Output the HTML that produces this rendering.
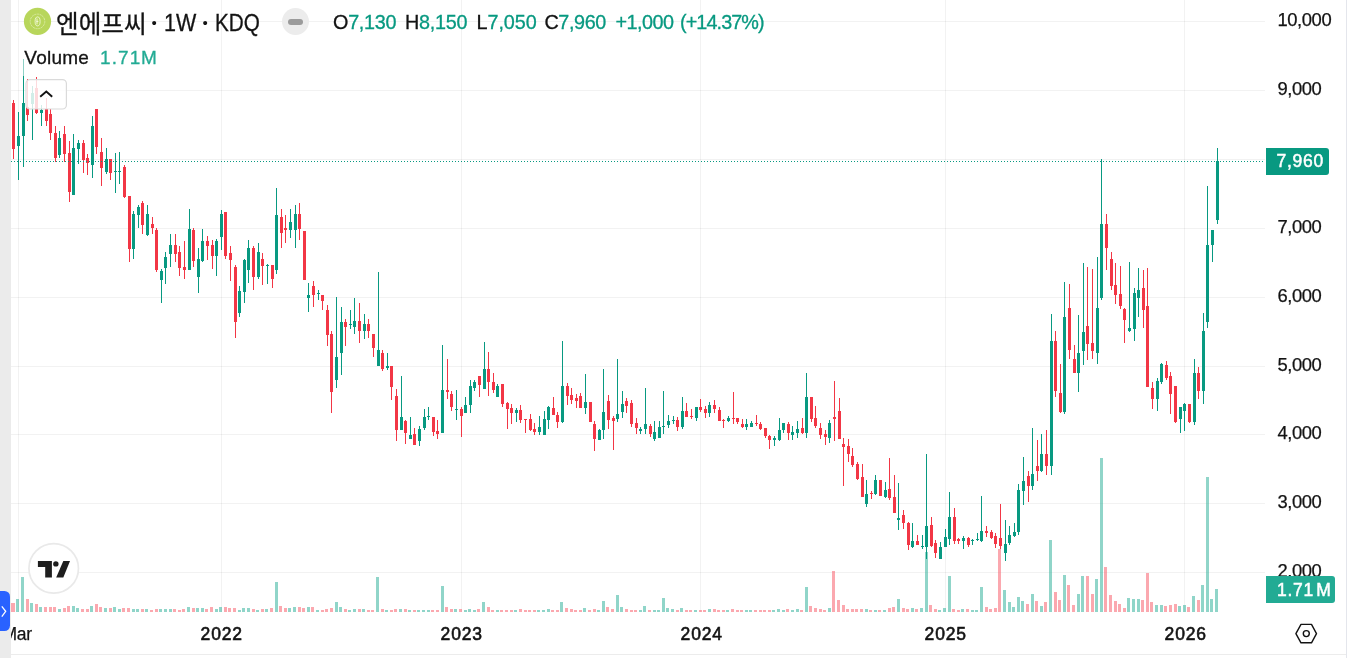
<!DOCTYPE html>
<html><head><meta charset="utf-8"><title>chart</title>
<style>
html,body{margin:0;padding:0;background:#fff;}
body{width:1347px;height:658px;position:relative;overflow:hidden;font-family:"Liberation Sans","NanumGothic","Noto Sans CJK KR",sans-serif;color:#131722;}
.abs{position:absolute;white-space:nowrap;}
#strip{left:0;top:0;width:11px;height:658px;background:#ebebeb;z-index:5;}
#rstrip{left:1346px;top:0;width:1px;height:658px;background:#e4e6ec;}
#tab{z-index:6;left:0;top:591px;width:10.2px;height:40px;background:#2962ff;border-radius:0 5.5px 5.5px 0;}
#chart{left:0;top:0;}
#bline{left:11px;top:654px;width:1335px;height:1px;background:#ececec;}
.pl{left:1277.4px;margin-top:-1.4px;font-size:18.4px;line-height:20px;color:#131313;letter-spacing:-0.4px;-webkit-text-stroke:0.25px #131313;}
.tl{font-size:17.5px;font-weight:normal;-webkit-text-stroke:0.6px #131313;line-height:20px;letter-spacing:0.8px;color:#131313;margin-left:0.7px;transform:translateX(-50%);top:624px;}
.tt{font-size:23.5px;line-height:28px;color:#131313;transform-origin:0 50%;-webkit-text-stroke:0.3px #131313;}
.oh{top:10.8px;font-size:19.8px;line-height:22px;color:#089981;-webkit-text-stroke:0.3px #089981;}
.oh b{font-weight:normal;color:#131313;-webkit-text-stroke:0.3px #131313;}

#vol{left:24.3px;top:47.3px;font-size:19px;line-height:22px;letter-spacing:0.25px;color:#131313;-webkit-text-stroke:0.3px #131313;}
#vol .vv{color:#22ab94;-webkit-text-stroke:0.3px #22ab94;margin-left:10.8px;letter-spacing:1.1px;}
#vol .vm{margin-left:-5.7px;letter-spacing:0;font-size:19px;}
#pill{left:282px;top:8px;width:27px;height:27px;border-radius:50%;background:#ececec;}
#pill i{position:absolute;left:6px;top:11px;width:15px;height:6px;border-radius:3px;background:#9b9b9b;}
#logo{left:23.5px;top:7.5px;width:28px;height:28px;border-radius:50%;background:#b5d45a;}
#collapse{left:26px;top:79px;width:39px;height:29px;border:1px solid #e2e2e2;border-radius:5px;background:rgba(255,255,255,0.85);}
#tv{left:28.3px;top:543px;width:48px;height:48px;border:1.4px solid #e8e8e8;border-radius:50%;background:#fff;}
#plabel{left:1266px;top:148px;width:52.5px;padding-left:10.5px;height:27px;background:#089981;border-radius:0 3px 3px 0;color:#fff;font-size:17.5px;font-weight:normal;-webkit-text-stroke:0.5px #fff;line-height:27px;letter-spacing:0.75px;}
#vlabel{left:1266px;top:576px;width:58px;padding-left:11px;height:27px;background:#22ab94;border-radius:0 3px 3px 0;color:#fff;font-size:17.5px;font-weight:normal;-webkit-text-stroke:0.5px #fff;line-height:28px;letter-spacing:0.75px;}
</style></head><body>
<div id="strip" class="abs"></div><div id="rstrip" class="abs"></div>
<svg id="chart" class="abs" width="1347" height="658" viewBox="0 0 1347 658" shape-rendering="crispEdges">
<rect x="11" y="21" width="1254" height="1" fill="rgba(0,0,0,0.052)"/>
<rect x="11" y="90" width="1254" height="1" fill="rgba(0,0,0,0.052)"/>
<rect x="11" y="159" width="1254" height="1" fill="rgba(0,0,0,0.052)"/>
<rect x="11" y="228" width="1254" height="1" fill="rgba(0,0,0,0.052)"/>
<rect x="11" y="297" width="1254" height="1" fill="rgba(0,0,0,0.052)"/>
<rect x="11" y="366" width="1254" height="1" fill="rgba(0,0,0,0.052)"/>
<rect x="11" y="434" width="1254" height="1" fill="rgba(0,0,0,0.052)"/>
<rect x="11" y="503" width="1254" height="1" fill="rgba(0,0,0,0.052)"/>
<rect x="11" y="572" width="1254" height="1" fill="rgba(0,0,0,0.052)"/>
<rect x="18" y="0" width="1" height="612" fill="rgba(0,0,0,0.052)"/>
<rect x="221" y="0" width="1" height="612" fill="rgba(0,0,0,0.052)"/>
<rect x="461" y="0" width="1" height="612" fill="rgba(0,0,0,0.052)"/>
<rect x="700" y="0" width="1" height="612" fill="rgba(0,0,0,0.052)"/>
<rect x="945" y="0" width="1" height="612" fill="rgba(0,0,0,0.052)"/>
<rect x="1184" y="0" width="1" height="612" fill="rgba(0,0,0,0.052)"/>
<rect x="11" y="603" width="4" height="9" fill="rgba(247,82,95,0.5)"/>
<rect x="16" y="599" width="3" height="13" fill="rgba(34,171,148,0.5)"/>
<rect x="21" y="577" width="3" height="35" fill="rgba(34,171,148,0.5)"/>
<rect x="26" y="599" width="3" height="13" fill="rgba(247,82,95,0.5)"/>
<rect x="30" y="603" width="3" height="9" fill="rgba(34,171,148,0.5)"/>
<rect x="35" y="604" width="3" height="8" fill="rgba(247,82,95,0.5)"/>
<rect x="39" y="607" width="3" height="5" fill="rgba(34,171,148,0.5)"/>
<rect x="44" y="607" width="3" height="5" fill="rgba(247,82,95,0.5)"/>
<rect x="49" y="607" width="3" height="5" fill="rgba(247,82,95,0.5)"/>
<rect x="53" y="607" width="3" height="5" fill="rgba(247,82,95,0.5)"/>
<rect x="58" y="609" width="3" height="3" fill="rgba(34,171,148,0.5)"/>
<rect x="63" y="608" width="3" height="4" fill="rgba(247,82,95,0.5)"/>
<rect x="67" y="606" width="3" height="6" fill="rgba(247,82,95,0.5)"/>
<rect x="72" y="606" width="3" height="6" fill="rgba(34,171,148,0.5)"/>
<rect x="76" y="608" width="3" height="4" fill="rgba(34,171,148,0.5)"/>
<rect x="81" y="609" width="3" height="3" fill="rgba(247,82,95,0.5)"/>
<rect x="86" y="609" width="3" height="3" fill="rgba(247,82,95,0.5)"/>
<rect x="90" y="606" width="3" height="6" fill="rgba(34,171,148,0.5)"/>
<rect x="95" y="604" width="3" height="8" fill="rgba(247,82,95,0.5)"/>
<rect x="99" y="607" width="3" height="5" fill="rgba(247,82,95,0.5)"/>
<rect x="104" y="608" width="3" height="4" fill="rgba(34,171,148,0.5)"/>
<rect x="109" y="608" width="3" height="4" fill="rgba(247,82,95,0.5)"/>
<rect x="113" y="607" width="3" height="5" fill="rgba(34,171,148,0.5)"/>
<rect x="118" y="609" width="3" height="3" fill="rgba(34,171,148,0.5)"/>
<rect x="122" y="608" width="3" height="4" fill="rgba(247,82,95,0.5)"/>
<rect x="127" y="608" width="3" height="4" fill="rgba(247,82,95,0.5)"/>
<rect x="132" y="609" width="3" height="3" fill="rgba(34,171,148,0.5)"/>
<rect x="136" y="609" width="3" height="3" fill="rgba(34,171,148,0.5)"/>
<rect x="141" y="609" width="3" height="3" fill="rgba(247,82,95,0.5)"/>
<rect x="145" y="609" width="3" height="3" fill="rgba(34,171,148,0.5)"/>
<rect x="150" y="610" width="3" height="2" fill="rgba(247,82,95,0.5)"/>
<rect x="155" y="609" width="3" height="3" fill="rgba(247,82,95,0.5)"/>
<rect x="159" y="609" width="3" height="3" fill="rgba(34,171,148,0.5)"/>
<rect x="164" y="609" width="3" height="3" fill="rgba(34,171,148,0.5)"/>
<rect x="169" y="609" width="3" height="3" fill="rgba(34,171,148,0.5)"/>
<rect x="173" y="609" width="3" height="3" fill="rgba(247,82,95,0.5)"/>
<rect x="178" y="610" width="3" height="2" fill="rgba(247,82,95,0.5)"/>
<rect x="182" y="609" width="3" height="3" fill="rgba(247,82,95,0.5)"/>
<rect x="187" y="607" width="3" height="5" fill="rgba(34,171,148,0.5)"/>
<rect x="192" y="608" width="3" height="4" fill="rgba(247,82,95,0.5)"/>
<rect x="196" y="608" width="3" height="4" fill="rgba(34,171,148,0.5)"/>
<rect x="201" y="608" width="3" height="4" fill="rgba(34,171,148,0.5)"/>
<rect x="205" y="609" width="3" height="3" fill="rgba(247,82,95,0.5)"/>
<rect x="210" y="607" width="3" height="5" fill="rgba(247,82,95,0.5)"/>
<rect x="215" y="609" width="3" height="3" fill="rgba(34,171,148,0.5)"/>
<rect x="219" y="607" width="3" height="5" fill="rgba(34,171,148,0.5)"/>
<rect x="224" y="607" width="3" height="5" fill="rgba(247,82,95,0.5)"/>
<rect x="228" y="608" width="3" height="4" fill="rgba(247,82,95,0.5)"/>
<rect x="233" y="608" width="3" height="4" fill="rgba(247,82,95,0.5)"/>
<rect x="238" y="610" width="3" height="2" fill="rgba(34,171,148,0.5)"/>
<rect x="242" y="608" width="3" height="4" fill="rgba(34,171,148,0.5)"/>
<rect x="247" y="608" width="3" height="4" fill="rgba(34,171,148,0.5)"/>
<rect x="252" y="609" width="3" height="3" fill="rgba(247,82,95,0.5)"/>
<rect x="256" y="610" width="3" height="2" fill="rgba(34,171,148,0.5)"/>
<rect x="261" y="609" width="3" height="3" fill="rgba(247,82,95,0.5)"/>
<rect x="265" y="609" width="3" height="3" fill="rgba(34,171,148,0.5)"/>
<rect x="270" y="608" width="3" height="4" fill="rgba(247,82,95,0.5)"/>
<rect x="275" y="582" width="3" height="30" fill="rgba(34,171,148,0.5)"/>
<rect x="279" y="606" width="3" height="6" fill="rgba(247,82,95,0.5)"/>
<rect x="284" y="608" width="3" height="4" fill="rgba(247,82,95,0.5)"/>
<rect x="288" y="608" width="3" height="4" fill="rgba(34,171,148,0.5)"/>
<rect x="293" y="607" width="3" height="5" fill="rgba(34,171,148,0.5)"/>
<rect x="298" y="607" width="3" height="5" fill="rgba(247,82,95,0.5)"/>
<rect x="302" y="608" width="3" height="4" fill="rgba(247,82,95,0.5)"/>
<rect x="307" y="607" width="3" height="5" fill="rgba(34,171,148,0.5)"/>
<rect x="311" y="607" width="3" height="5" fill="rgba(247,82,95,0.5)"/>
<rect x="316" y="610" width="3" height="2" fill="rgba(34,171,148,0.5)"/>
<rect x="321" y="610" width="3" height="2" fill="rgba(247,82,95,0.5)"/>
<rect x="325" y="609" width="3" height="3" fill="rgba(247,82,95,0.5)"/>
<rect x="330" y="608" width="3" height="4" fill="rgba(247,82,95,0.5)"/>
<rect x="335" y="602" width="3" height="10" fill="rgba(34,171,148,0.5)"/>
<rect x="339" y="607" width="3" height="5" fill="rgba(34,171,148,0.5)"/>
<rect x="344" y="609" width="3" height="3" fill="rgba(247,82,95,0.5)"/>
<rect x="348" y="610" width="3" height="2" fill="rgba(34,171,148,0.5)"/>
<rect x="353" y="609" width="3" height="3" fill="rgba(34,171,148,0.5)"/>
<rect x="358" y="609" width="3" height="3" fill="rgba(247,82,95,0.5)"/>
<rect x="362" y="609" width="3" height="3" fill="rgba(34,171,148,0.5)"/>
<rect x="367" y="610" width="3" height="2" fill="rgba(247,82,95,0.5)"/>
<rect x="371" y="610" width="3" height="2" fill="rgba(247,82,95,0.5)"/>
<rect x="376" y="577" width="3" height="35" fill="rgba(34,171,148,0.5)"/>
<rect x="381" y="609" width="3" height="3" fill="rgba(247,82,95,0.5)"/>
<rect x="385" y="610" width="3" height="2" fill="rgba(34,171,148,0.5)"/>
<rect x="390" y="610" width="3" height="2" fill="rgba(247,82,95,0.5)"/>
<rect x="394" y="609" width="3" height="3" fill="rgba(247,82,95,0.5)"/>
<rect x="399" y="609" width="3" height="3" fill="rgba(34,171,148,0.5)"/>
<rect x="404" y="609" width="3" height="3" fill="rgba(247,82,95,0.5)"/>
<rect x="408" y="610" width="3" height="2" fill="rgba(34,171,148,0.5)"/>
<rect x="413" y="610" width="3" height="2" fill="rgba(247,82,95,0.5)"/>
<rect x="417" y="610" width="3" height="2" fill="rgba(34,171,148,0.5)"/>
<rect x="422" y="610" width="3" height="2" fill="rgba(34,171,148,0.5)"/>
<rect x="427" y="610" width="3" height="2" fill="rgba(34,171,148,0.5)"/>
<rect x="431" y="610" width="3" height="2" fill="rgba(247,82,95,0.5)"/>
<rect x="436" y="610" width="3" height="2" fill="rgba(247,82,95,0.5)"/>
<rect x="441" y="586" width="3" height="26" fill="rgba(34,171,148,0.5)"/>
<rect x="445" y="607" width="3" height="5" fill="rgba(247,82,95,0.5)"/>
<rect x="450" y="609" width="3" height="3" fill="rgba(247,82,95,0.5)"/>
<rect x="454" y="609" width="3" height="3" fill="rgba(34,171,148,0.5)"/>
<rect x="459" y="609" width="3" height="3" fill="rgba(247,82,95,0.5)"/>
<rect x="464" y="610" width="3" height="2" fill="rgba(34,171,148,0.5)"/>
<rect x="468" y="609" width="3" height="3" fill="rgba(34,171,148,0.5)"/>
<rect x="473" y="610" width="3" height="2" fill="rgba(34,171,148,0.5)"/>
<rect x="477" y="609" width="3" height="3" fill="rgba(247,82,95,0.5)"/>
<rect x="482" y="602" width="3" height="10" fill="rgba(34,171,148,0.5)"/>
<rect x="487" y="607" width="3" height="5" fill="rgba(247,82,95,0.5)"/>
<rect x="491" y="610" width="3" height="2" fill="rgba(247,82,95,0.5)"/>
<rect x="496" y="610" width="3" height="2" fill="rgba(34,171,148,0.5)"/>
<rect x="500" y="610" width="3" height="2" fill="rgba(247,82,95,0.5)"/>
<rect x="505" y="610" width="3" height="2" fill="rgba(247,82,95,0.5)"/>
<rect x="510" y="610" width="3" height="2" fill="rgba(247,82,95,0.5)"/>
<rect x="514" y="610" width="3" height="2" fill="rgba(34,171,148,0.5)"/>
<rect x="519" y="609" width="3" height="3" fill="rgba(247,82,95,0.5)"/>
<rect x="524" y="610" width="3" height="2" fill="rgba(247,82,95,0.5)"/>
<rect x="528" y="610" width="3" height="2" fill="rgba(247,82,95,0.5)"/>
<rect x="533" y="610" width="3" height="2" fill="rgba(247,82,95,0.5)"/>
<rect x="537" y="610" width="3" height="2" fill="rgba(34,171,148,0.5)"/>
<rect x="542" y="610" width="3" height="2" fill="rgba(34,171,148,0.5)"/>
<rect x="547" y="609" width="3" height="3" fill="rgba(34,171,148,0.5)"/>
<rect x="551" y="610" width="3" height="2" fill="rgba(247,82,95,0.5)"/>
<rect x="556" y="610" width="3" height="2" fill="rgba(247,82,95,0.5)"/>
<rect x="560" y="602" width="3" height="10" fill="rgba(34,171,148,0.5)"/>
<rect x="565" y="608" width="3" height="4" fill="rgba(247,82,95,0.5)"/>
<rect x="570" y="609" width="3" height="3" fill="rgba(247,82,95,0.5)"/>
<rect x="574" y="610" width="3" height="2" fill="rgba(247,82,95,0.5)"/>
<rect x="579" y="610" width="3" height="2" fill="rgba(247,82,95,0.5)"/>
<rect x="583" y="608" width="3" height="4" fill="rgba(34,171,148,0.5)"/>
<rect x="588" y="610" width="3" height="2" fill="rgba(247,82,95,0.5)"/>
<rect x="593" y="609" width="3" height="3" fill="rgba(247,82,95,0.5)"/>
<rect x="597" y="610" width="3" height="2" fill="rgba(34,171,148,0.5)"/>
<rect x="602" y="601" width="3" height="11" fill="rgba(34,171,148,0.5)"/>
<rect x="606" y="607" width="3" height="5" fill="rgba(247,82,95,0.5)"/>
<rect x="611" y="609" width="3" height="3" fill="rgba(247,82,95,0.5)"/>
<rect x="616" y="595" width="3" height="17" fill="rgba(34,171,148,0.5)"/>
<rect x="620" y="607" width="3" height="5" fill="rgba(34,171,148,0.5)"/>
<rect x="625" y="609" width="3" height="3" fill="rgba(247,82,95,0.5)"/>
<rect x="630" y="610" width="3" height="2" fill="rgba(247,82,95,0.5)"/>
<rect x="634" y="610" width="3" height="2" fill="rgba(247,82,95,0.5)"/>
<rect x="639" y="610" width="3" height="2" fill="rgba(34,171,148,0.5)"/>
<rect x="643" y="606" width="3" height="6" fill="rgba(34,171,148,0.5)"/>
<rect x="648" y="610" width="3" height="2" fill="rgba(247,82,95,0.5)"/>
<rect x="653" y="610" width="3" height="2" fill="rgba(34,171,148,0.5)"/>
<rect x="657" y="610" width="3" height="2" fill="rgba(34,171,148,0.5)"/>
<rect x="662" y="598" width="3" height="14" fill="rgba(34,171,148,0.5)"/>
<rect x="666" y="608" width="3" height="4" fill="rgba(34,171,148,0.5)"/>
<rect x="671" y="609" width="3" height="3" fill="rgba(34,171,148,0.5)"/>
<rect x="676" y="610" width="3" height="2" fill="rgba(247,82,95,0.5)"/>
<rect x="680" y="608" width="3" height="4" fill="rgba(34,171,148,0.5)"/>
<rect x="685" y="610" width="3" height="2" fill="rgba(247,82,95,0.5)"/>
<rect x="689" y="610" width="3" height="2" fill="rgba(247,82,95,0.5)"/>
<rect x="694" y="610" width="3" height="2" fill="rgba(34,171,148,0.5)"/>
<rect x="699" y="610" width="3" height="2" fill="rgba(247,82,95,0.5)"/>
<rect x="703" y="610" width="3" height="2" fill="rgba(247,82,95,0.5)"/>
<rect x="708" y="609" width="3" height="3" fill="rgba(34,171,148,0.5)"/>
<rect x="713" y="609" width="3" height="3" fill="rgba(247,82,95,0.5)"/>
<rect x="717" y="610" width="3" height="2" fill="rgba(247,82,95,0.5)"/>
<rect x="722" y="610" width="3" height="2" fill="rgba(247,82,95,0.5)"/>
<rect x="726" y="610" width="3" height="2" fill="rgba(34,171,148,0.5)"/>
<rect x="731" y="609" width="3" height="3" fill="rgba(247,82,95,0.5)"/>
<rect x="736" y="610" width="3" height="2" fill="rgba(247,82,95,0.5)"/>
<rect x="740" y="610" width="3" height="2" fill="rgba(247,82,95,0.5)"/>
<rect x="745" y="610" width="3" height="2" fill="rgba(34,171,148,0.5)"/>
<rect x="749" y="610" width="3" height="2" fill="rgba(34,171,148,0.5)"/>
<rect x="754" y="610" width="3" height="2" fill="rgba(247,82,95,0.5)"/>
<rect x="759" y="610" width="3" height="2" fill="rgba(247,82,95,0.5)"/>
<rect x="763" y="610" width="3" height="2" fill="rgba(247,82,95,0.5)"/>
<rect x="768" y="610" width="3" height="2" fill="rgba(247,82,95,0.5)"/>
<rect x="772" y="610" width="3" height="2" fill="rgba(34,171,148,0.5)"/>
<rect x="777" y="609" width="3" height="3" fill="rgba(34,171,148,0.5)"/>
<rect x="782" y="610" width="3" height="2" fill="rgba(34,171,148,0.5)"/>
<rect x="786" y="609" width="3" height="3" fill="rgba(247,82,95,0.5)"/>
<rect x="791" y="610" width="3" height="2" fill="rgba(34,171,148,0.5)"/>
<rect x="796" y="609" width="3" height="3" fill="rgba(34,171,148,0.5)"/>
<rect x="800" y="610" width="3" height="2" fill="rgba(247,82,95,0.5)"/>
<rect x="805" y="587" width="3" height="25" fill="rgba(34,171,148,0.5)"/>
<rect x="809" y="606" width="3" height="6" fill="rgba(247,82,95,0.5)"/>
<rect x="814" y="608" width="3" height="4" fill="rgba(247,82,95,0.5)"/>
<rect x="819" y="609" width="3" height="3" fill="rgba(247,82,95,0.5)"/>
<rect x="823" y="610" width="3" height="2" fill="rgba(247,82,95,0.5)"/>
<rect x="828" y="608" width="3" height="4" fill="rgba(34,171,148,0.5)"/>
<rect x="832" y="571" width="3" height="41" fill="rgba(247,82,95,0.5)"/>
<rect x="837" y="600" width="3" height="12" fill="rgba(247,82,95,0.5)"/>
<rect x="842" y="605" width="3" height="7" fill="rgba(247,82,95,0.5)"/>
<rect x="846" y="609" width="3" height="3" fill="rgba(247,82,95,0.5)"/>
<rect x="851" y="609" width="3" height="3" fill="rgba(247,82,95,0.5)"/>
<rect x="855" y="609" width="3" height="3" fill="rgba(247,82,95,0.5)"/>
<rect x="860" y="609" width="3" height="3" fill="rgba(247,82,95,0.5)"/>
<rect x="865" y="609" width="3" height="3" fill="rgba(34,171,148,0.5)"/>
<rect x="869" y="610" width="3" height="2" fill="rgba(247,82,95,0.5)"/>
<rect x="874" y="610" width="3" height="2" fill="rgba(34,171,148,0.5)"/>
<rect x="878" y="610" width="3" height="2" fill="rgba(247,82,95,0.5)"/>
<rect x="883" y="610" width="3" height="2" fill="rgba(34,171,148,0.5)"/>
<rect x="888" y="608" width="3" height="4" fill="rgba(247,82,95,0.5)"/>
<rect x="892" y="607" width="3" height="5" fill="rgba(247,82,95,0.5)"/>
<rect x="897" y="599" width="3" height="13" fill="rgba(34,171,148,0.5)"/>
<rect x="902" y="608" width="3" height="4" fill="rgba(247,82,95,0.5)"/>
<rect x="906" y="609" width="3" height="3" fill="rgba(247,82,95,0.5)"/>
<rect x="911" y="608" width="3" height="4" fill="rgba(34,171,148,0.5)"/>
<rect x="915" y="609" width="3" height="3" fill="rgba(247,82,95,0.5)"/>
<rect x="920" y="608" width="3" height="4" fill="rgba(34,171,148,0.5)"/>
<rect x="925" y="552" width="3" height="60" fill="rgba(34,171,148,0.5)"/>
<rect x="929" y="605" width="3" height="7" fill="rgba(247,82,95,0.5)"/>
<rect x="934" y="609" width="3" height="3" fill="rgba(247,82,95,0.5)"/>
<rect x="938" y="610" width="3" height="2" fill="rgba(34,171,148,0.5)"/>
<rect x="943" y="608" width="3" height="4" fill="rgba(34,171,148,0.5)"/>
<rect x="948" y="576" width="3" height="36" fill="rgba(34,171,148,0.5)"/>
<rect x="952" y="609" width="3" height="3" fill="rgba(247,82,95,0.5)"/>
<rect x="957" y="610" width="3" height="2" fill="rgba(247,82,95,0.5)"/>
<rect x="961" y="609" width="3" height="3" fill="rgba(34,171,148,0.5)"/>
<rect x="966" y="609" width="3" height="3" fill="rgba(247,82,95,0.5)"/>
<rect x="971" y="610" width="3" height="2" fill="rgba(34,171,148,0.5)"/>
<rect x="975" y="610" width="3" height="2" fill="rgba(34,171,148,0.5)"/>
<rect x="980" y="587" width="3" height="25" fill="rgba(34,171,148,0.5)"/>
<rect x="985" y="607" width="3" height="5" fill="rgba(247,82,95,0.5)"/>
<rect x="989" y="609" width="3" height="3" fill="rgba(247,82,95,0.5)"/>
<rect x="994" y="608" width="3" height="4" fill="rgba(247,82,95,0.5)"/>
<rect x="998" y="549" width="3" height="63" fill="rgba(247,82,95,0.5)"/>
<rect x="1003" y="590" width="3" height="22" fill="rgba(34,171,148,0.5)"/>
<rect x="1008" y="602" width="3" height="10" fill="rgba(34,171,148,0.5)"/>
<rect x="1012" y="607" width="3" height="5" fill="rgba(34,171,148,0.5)"/>
<rect x="1017" y="597" width="3" height="15" fill="rgba(34,171,148,0.5)"/>
<rect x="1021" y="601" width="3" height="11" fill="rgba(34,171,148,0.5)"/>
<rect x="1026" y="604" width="3" height="8" fill="rgba(247,82,95,0.5)"/>
<rect x="1031" y="594" width="3" height="18" fill="rgba(34,171,148,0.5)"/>
<rect x="1035" y="601" width="3" height="11" fill="rgba(247,82,95,0.5)"/>
<rect x="1040" y="606" width="3" height="6" fill="rgba(34,171,148,0.5)"/>
<rect x="1044" y="602" width="3" height="10" fill="rgba(247,82,95,0.5)"/>
<rect x="1049" y="540" width="3" height="72" fill="rgba(34,171,148,0.5)"/>
<rect x="1054" y="592" width="3" height="20" fill="rgba(247,82,95,0.5)"/>
<rect x="1058" y="600" width="3" height="12" fill="rgba(247,82,95,0.5)"/>
<rect x="1063" y="575" width="3" height="37" fill="rgba(34,171,148,0.5)"/>
<rect x="1067" y="585" width="3" height="27" fill="rgba(247,82,95,0.5)"/>
<rect x="1072" y="605" width="3" height="7" fill="rgba(247,82,95,0.5)"/>
<rect x="1077" y="594" width="3" height="18" fill="rgba(34,171,148,0.5)"/>
<rect x="1081" y="576" width="3" height="36" fill="rgba(34,171,148,0.5)"/>
<rect x="1086" y="576" width="3" height="36" fill="rgba(247,82,95,0.5)"/>
<rect x="1091" y="594" width="3" height="18" fill="rgba(247,82,95,0.5)"/>
<rect x="1095" y="579" width="3" height="33" fill="rgba(34,171,148,0.5)"/>
<rect x="1100" y="458" width="3" height="154" fill="rgba(34,171,148,0.5)"/>
<rect x="1104" y="567" width="3" height="45" fill="rgba(247,82,95,0.5)"/>
<rect x="1109" y="595" width="3" height="17" fill="rgba(247,82,95,0.5)"/>
<rect x="1114" y="601" width="3" height="11" fill="rgba(247,82,95,0.5)"/>
<rect x="1118" y="604" width="3" height="8" fill="rgba(247,82,95,0.5)"/>
<rect x="1123" y="608" width="3" height="4" fill="rgba(247,82,95,0.5)"/>
<rect x="1127" y="598" width="3" height="14" fill="rgba(34,171,148,0.5)"/>
<rect x="1132" y="599" width="3" height="13" fill="rgba(34,171,148,0.5)"/>
<rect x="1137" y="599" width="3" height="13" fill="rgba(34,171,148,0.5)"/>
<rect x="1141" y="600" width="3" height="12" fill="rgba(247,82,95,0.5)"/>
<rect x="1146" y="573" width="3" height="39" fill="rgba(247,82,95,0.5)"/>
<rect x="1150" y="602" width="3" height="10" fill="rgba(247,82,95,0.5)"/>
<rect x="1155" y="605" width="3" height="7" fill="rgba(34,171,148,0.5)"/>
<rect x="1160" y="605" width="3" height="7" fill="rgba(34,171,148,0.5)"/>
<rect x="1164" y="606" width="3" height="6" fill="rgba(247,82,95,0.5)"/>
<rect x="1169" y="605" width="3" height="7" fill="rgba(247,82,95,0.5)"/>
<rect x="1174" y="604" width="3" height="8" fill="rgba(247,82,95,0.5)"/>
<rect x="1178" y="606" width="3" height="6" fill="rgba(34,171,148,0.5)"/>
<rect x="1183" y="605" width="3" height="7" fill="rgba(34,171,148,0.5)"/>
<rect x="1187" y="607" width="3" height="5" fill="rgba(247,82,95,0.5)"/>
<rect x="1192" y="596" width="3" height="16" fill="rgba(34,171,148,0.5)"/>
<rect x="1197" y="600" width="3" height="12" fill="rgba(247,82,95,0.5)"/>
<rect x="1201" y="585" width="3" height="27" fill="rgba(34,171,148,0.5)"/>
<rect x="1206" y="477" width="3" height="135" fill="rgba(34,171,148,0.5)"/>
<rect x="1210" y="599" width="3" height="13" fill="rgba(34,171,148,0.5)"/>
<rect x="1215" y="589" width="3" height="23" fill="rgba(34,171,148,0.5)"/>
<rect x="13" y="100" width="1" height="59" fill="#f23645"/><rect x="12" y="103" width="3" height="46" fill="#f23645"/>
<rect x="18" y="112" width="1" height="68" fill="#089981"/><rect x="17" y="136" width="3" height="10" fill="#089981"/>
<rect x="23" y="59" width="1" height="108" fill="#089981"/><rect x="22" y="103" width="3" height="33" fill="#089981"/>
<rect x="27" y="79" width="1" height="42" fill="#f23645"/><rect x="26" y="107" width="3" height="8" fill="#f23645"/>
<rect x="32" y="86" width="1" height="54" fill="#089981"/><rect x="31" y="93" width="3" height="11" fill="#089981"/>
<rect x="36" y="77" width="1" height="37" fill="#f23645"/><rect x="35" y="88" width="3" height="25" fill="#f23645"/>
<rect x="41" y="105" width="1" height="21" fill="#089981"/><rect x="40" y="110" width="3" height="3" fill="#089981"/>
<rect x="46" y="98" width="1" height="28" fill="#f23645"/><rect x="45" y="109" width="3" height="12" fill="#f23645"/>
<rect x="50" y="109" width="1" height="31" fill="#f23645"/><rect x="49" y="114" width="3" height="19" fill="#f23645"/>
<rect x="55" y="126" width="1" height="36" fill="#f23645"/><rect x="54" y="133" width="3" height="25" fill="#f23645"/>
<rect x="59" y="131" width="1" height="27" fill="#089981"/><rect x="58" y="138" width="3" height="17" fill="#089981"/>
<rect x="64" y="126" width="1" height="36" fill="#f23645"/><rect x="63" y="134" width="3" height="20" fill="#f23645"/>
<rect x="69" y="141" width="1" height="61" fill="#f23645"/><rect x="68" y="153" width="3" height="39" fill="#f23645"/>
<rect x="73" y="134" width="1" height="61" fill="#089981"/><rect x="72" y="148" width="3" height="47" fill="#089981"/>
<rect x="78" y="140" width="1" height="24" fill="#089981"/><rect x="77" y="143" width="3" height="6" fill="#089981"/>
<rect x="83" y="140" width="1" height="33" fill="#f23645"/><rect x="82" y="143" width="3" height="17" fill="#f23645"/>
<rect x="87" y="154" width="1" height="21" fill="#f23645"/><rect x="86" y="158" width="3" height="5" fill="#f23645"/>
<rect x="92" y="116" width="1" height="62" fill="#089981"/><rect x="91" y="126" width="3" height="39" fill="#089981"/>
<rect x="96" y="109" width="1" height="45" fill="#f23645"/><rect x="95" y="109" width="3" height="38" fill="#f23645"/>
<rect x="101" y="138" width="1" height="48" fill="#f23645"/><rect x="100" y="152" width="3" height="16" fill="#f23645"/>
<rect x="106" y="148" width="1" height="26" fill="#089981"/><rect x="105" y="159" width="3" height="13" fill="#089981"/>
<rect x="110" y="159" width="1" height="21" fill="#f23645"/><rect x="109" y="159" width="3" height="14" fill="#f23645"/>
<rect x="115" y="153" width="1" height="40" fill="#089981"/><rect x="114" y="171" width="3" height="1" fill="#089981"/>
<rect x="119" y="152" width="1" height="32" fill="#089981"/><rect x="118" y="171" width="3" height="1" fill="#089981"/>
<rect x="124" y="165" width="1" height="33" fill="#f23645"/><rect x="123" y="167" width="3" height="30" fill="#f23645"/>
<rect x="129" y="196" width="1" height="66" fill="#f23645"/><rect x="128" y="196" width="3" height="53" fill="#f23645"/>
<rect x="133" y="211" width="1" height="48" fill="#089981"/><rect x="132" y="214" width="3" height="35" fill="#089981"/>
<rect x="138" y="205" width="1" height="23" fill="#089981"/><rect x="137" y="207" width="3" height="8" fill="#089981"/>
<rect x="142" y="201" width="1" height="33" fill="#f23645"/><rect x="141" y="203" width="3" height="22" fill="#f23645"/>
<rect x="147" y="205" width="1" height="31" fill="#089981"/><rect x="146" y="214" width="3" height="21" fill="#089981"/>
<rect x="152" y="217" width="1" height="17" fill="#f23645"/><rect x="151" y="224" width="3" height="4" fill="#f23645"/>
<rect x="156" y="228" width="1" height="44" fill="#f23645"/><rect x="155" y="230" width="3" height="40" fill="#f23645"/>
<rect x="161" y="269" width="1" height="34" fill="#089981"/><rect x="160" y="271" width="3" height="9" fill="#089981"/>
<rect x="165" y="252" width="1" height="32" fill="#089981"/><rect x="164" y="257" width="3" height="11" fill="#089981"/>
<rect x="170" y="234" width="1" height="33" fill="#089981"/><rect x="169" y="245" width="3" height="9" fill="#089981"/>
<rect x="175" y="234" width="1" height="28" fill="#f23645"/><rect x="174" y="245" width="3" height="9" fill="#f23645"/>
<rect x="179" y="246" width="1" height="30" fill="#f23645"/><rect x="178" y="252" width="3" height="16" fill="#f23645"/>
<rect x="184" y="241" width="1" height="38" fill="#f23645"/><rect x="183" y="267" width="3" height="3" fill="#f23645"/>
<rect x="189" y="209" width="1" height="61" fill="#089981"/><rect x="188" y="229" width="3" height="41" fill="#089981"/>
<rect x="193" y="228" width="1" height="39" fill="#f23645"/><rect x="192" y="230" width="3" height="31" fill="#f23645"/>
<rect x="198" y="248" width="1" height="45" fill="#089981"/><rect x="197" y="259" width="3" height="18" fill="#089981"/>
<rect x="202" y="229" width="1" height="33" fill="#089981"/><rect x="201" y="241" width="3" height="20" fill="#089981"/>
<rect x="207" y="236" width="1" height="24" fill="#f23645"/><rect x="206" y="241" width="3" height="5" fill="#f23645"/>
<rect x="212" y="240" width="1" height="29" fill="#f23645"/><rect x="211" y="245" width="3" height="11" fill="#f23645"/>
<rect x="216" y="239" width="1" height="37" fill="#089981"/><rect x="215" y="241" width="3" height="15" fill="#089981"/>
<rect x="221" y="210" width="1" height="40" fill="#089981"/><rect x="220" y="214" width="3" height="23" fill="#089981"/>
<rect x="225" y="212" width="1" height="47" fill="#f23645"/><rect x="224" y="212" width="3" height="44" fill="#f23645"/>
<rect x="230" y="246" width="1" height="35" fill="#f23645"/><rect x="229" y="253" width="3" height="7" fill="#f23645"/>
<rect x="235" y="265" width="1" height="73" fill="#f23645"/><rect x="234" y="267" width="3" height="55" fill="#f23645"/>
<rect x="239" y="286" width="1" height="31" fill="#089981"/><rect x="238" y="291" width="3" height="22" fill="#089981"/>
<rect x="244" y="259" width="1" height="44" fill="#089981"/><rect x="243" y="260" width="3" height="32" fill="#089981"/>
<rect x="248" y="240" width="1" height="43" fill="#089981"/><rect x="247" y="248" width="3" height="22" fill="#089981"/>
<rect x="253" y="246" width="1" height="44" fill="#f23645"/><rect x="252" y="248" width="3" height="29" fill="#f23645"/>
<rect x="258" y="243" width="1" height="36" fill="#089981"/><rect x="257" y="252" width="3" height="25" fill="#089981"/>
<rect x="262" y="253" width="1" height="32" fill="#f23645"/><rect x="261" y="259" width="3" height="7" fill="#f23645"/>
<rect x="267" y="264" width="1" height="20" fill="#089981"/><rect x="266" y="265" width="3" height="1" fill="#089981"/>
<rect x="272" y="265" width="1" height="23" fill="#f23645"/><rect x="271" y="265" width="3" height="14" fill="#f23645"/>
<rect x="276" y="188" width="1" height="86" fill="#089981"/><rect x="275" y="215" width="3" height="55" fill="#089981"/>
<rect x="281" y="209" width="1" height="39" fill="#f23645"/><rect x="280" y="217" width="3" height="16" fill="#f23645"/>
<rect x="285" y="215" width="1" height="28" fill="#f23645"/><rect x="284" y="228" width="3" height="2" fill="#f23645"/>
<rect x="290" y="209" width="1" height="29" fill="#089981"/><rect x="289" y="222" width="3" height="8" fill="#089981"/>
<rect x="295" y="205" width="1" height="43" fill="#089981"/><rect x="294" y="214" width="3" height="16" fill="#089981"/>
<rect x="299" y="203" width="1" height="37" fill="#f23645"/><rect x="298" y="214" width="3" height="15" fill="#f23645"/>
<rect x="304" y="231" width="1" height="49" fill="#f23645"/><rect x="303" y="231" width="3" height="49" fill="#f23645"/>
<rect x="308" y="283" width="1" height="29" fill="#089981"/><rect x="307" y="295" width="3" height="3" fill="#089981"/>
<rect x="313" y="281" width="1" height="26" fill="#f23645"/><rect x="312" y="286" width="3" height="9" fill="#f23645"/>
<rect x="318" y="290" width="1" height="10" fill="#089981"/><rect x="317" y="293" width="3" height="1" fill="#089981"/>
<rect x="322" y="295" width="1" height="15" fill="#f23645"/><rect x="321" y="295" width="3" height="6" fill="#f23645"/>
<rect x="327" y="305" width="1" height="41" fill="#f23645"/><rect x="326" y="310" width="3" height="25" fill="#f23645"/>
<rect x="331" y="331" width="1" height="82" fill="#f23645"/><rect x="330" y="334" width="3" height="58" fill="#f23645"/>
<rect x="336" y="297" width="1" height="91" fill="#089981"/><rect x="335" y="357" width="3" height="23" fill="#089981"/>
<rect x="341" y="307" width="1" height="68" fill="#089981"/><rect x="340" y="322" width="3" height="31" fill="#089981"/>
<rect x="345" y="319" width="1" height="27" fill="#f23645"/><rect x="344" y="322" width="3" height="5" fill="#f23645"/>
<rect x="350" y="310" width="1" height="19" fill="#089981"/><rect x="349" y="324" width="3" height="1" fill="#089981"/>
<rect x="354" y="298" width="1" height="36" fill="#089981"/><rect x="353" y="321" width="3" height="6" fill="#089981"/>
<rect x="359" y="303" width="1" height="40" fill="#f23645"/><rect x="358" y="321" width="3" height="10" fill="#f23645"/>
<rect x="364" y="314" width="1" height="25" fill="#089981"/><rect x="363" y="324" width="3" height="7" fill="#089981"/>
<rect x="368" y="319" width="1" height="19" fill="#f23645"/><rect x="367" y="324" width="3" height="7" fill="#f23645"/>
<rect x="373" y="334" width="1" height="23" fill="#f23645"/><rect x="372" y="334" width="3" height="14" fill="#f23645"/>
<rect x="378" y="272" width="1" height="94" fill="#089981"/><rect x="377" y="350" width="3" height="16" fill="#089981"/>
<rect x="382" y="350" width="1" height="21" fill="#f23645"/><rect x="381" y="353" width="3" height="16" fill="#f23645"/>
<rect x="387" y="353" width="1" height="17" fill="#089981"/><rect x="386" y="366" width="3" height="2" fill="#089981"/>
<rect x="391" y="366" width="1" height="34" fill="#f23645"/><rect x="390" y="366" width="3" height="21" fill="#f23645"/>
<rect x="396" y="389" width="1" height="52" fill="#f23645"/><rect x="395" y="396" width="3" height="34" fill="#f23645"/>
<rect x="401" y="376" width="1" height="54" fill="#089981"/><rect x="400" y="417" width="3" height="13" fill="#089981"/>
<rect x="405" y="420" width="1" height="24" fill="#f23645"/><rect x="404" y="421" width="3" height="12" fill="#f23645"/>
<rect x="410" y="417" width="1" height="22" fill="#089981"/><rect x="409" y="435" width="3" height="4" fill="#089981"/>
<rect x="414" y="428" width="1" height="17" fill="#f23645"/><rect x="413" y="434" width="3" height="11" fill="#f23645"/>
<rect x="419" y="426" width="1" height="20" fill="#089981"/><rect x="418" y="429" width="3" height="12" fill="#089981"/>
<rect x="424" y="409" width="1" height="21" fill="#089981"/><rect x="423" y="417" width="3" height="11" fill="#089981"/>
<rect x="428" y="407" width="1" height="13" fill="#089981"/><rect x="427" y="416" width="3" height="1" fill="#089981"/>
<rect x="433" y="417" width="1" height="19" fill="#f23645"/><rect x="432" y="417" width="3" height="15" fill="#f23645"/>
<rect x="437" y="420" width="1" height="19" fill="#f23645"/><rect x="436" y="431" width="3" height="3" fill="#f23645"/>
<rect x="442" y="345" width="1" height="88" fill="#089981"/><rect x="441" y="390" width="3" height="43" fill="#089981"/>
<rect x="447" y="359" width="1" height="40" fill="#f23645"/><rect x="446" y="390" width="3" height="2" fill="#f23645"/>
<rect x="451" y="391" width="1" height="20" fill="#f23645"/><rect x="450" y="394" width="3" height="13" fill="#f23645"/>
<rect x="456" y="390" width="1" height="30" fill="#089981"/><rect x="455" y="409" width="3" height="1" fill="#089981"/>
<rect x="461" y="407" width="1" height="30" fill="#f23645"/><rect x="460" y="409" width="3" height="7" fill="#f23645"/>
<rect x="465" y="397" width="1" height="16" fill="#089981"/><rect x="464" y="405" width="3" height="8" fill="#089981"/>
<rect x="470" y="380" width="1" height="33" fill="#089981"/><rect x="469" y="386" width="3" height="19" fill="#089981"/>
<rect x="474" y="380" width="1" height="11" fill="#089981"/><rect x="473" y="382" width="3" height="6" fill="#089981"/>
<rect x="479" y="376" width="1" height="21" fill="#f23645"/><rect x="478" y="376" width="3" height="9" fill="#f23645"/>
<rect x="484" y="342" width="1" height="47" fill="#089981"/><rect x="483" y="369" width="3" height="20" fill="#089981"/>
<rect x="488" y="352" width="1" height="44" fill="#f23645"/><rect x="487" y="369" width="3" height="13" fill="#f23645"/>
<rect x="493" y="373" width="1" height="20" fill="#f23645"/><rect x="492" y="382" width="3" height="8" fill="#f23645"/>
<rect x="497" y="384" width="1" height="13" fill="#089981"/><rect x="496" y="386" width="3" height="11" fill="#089981"/>
<rect x="502" y="384" width="1" height="23" fill="#f23645"/><rect x="501" y="384" width="3" height="20" fill="#f23645"/>
<rect x="507" y="402" width="1" height="27" fill="#f23645"/><rect x="506" y="403" width="3" height="6" fill="#f23645"/>
<rect x="511" y="404" width="1" height="20" fill="#f23645"/><rect x="510" y="408" width="3" height="5" fill="#f23645"/>
<rect x="516" y="408" width="1" height="14" fill="#089981"/><rect x="515" y="410" width="3" height="3" fill="#089981"/>
<rect x="520" y="405" width="1" height="18" fill="#f23645"/><rect x="519" y="410" width="3" height="10" fill="#f23645"/>
<rect x="525" y="419" width="1" height="14" fill="#f23645"/><rect x="524" y="419" width="3" height="1" fill="#f23645"/>
<rect x="530" y="414" width="1" height="17" fill="#f23645"/><rect x="529" y="419" width="3" height="11" fill="#f23645"/>
<rect x="534" y="423" width="1" height="12" fill="#f23645"/><rect x="533" y="429" width="3" height="3" fill="#f23645"/>
<rect x="539" y="416" width="1" height="19" fill="#089981"/><rect x="538" y="427" width="3" height="5" fill="#089981"/>
<rect x="544" y="411" width="1" height="24" fill="#089981"/><rect x="543" y="419" width="3" height="16" fill="#089981"/>
<rect x="548" y="406" width="1" height="23" fill="#089981"/><rect x="547" y="407" width="3" height="13" fill="#089981"/>
<rect x="553" y="397" width="1" height="18" fill="#f23645"/><rect x="552" y="408" width="3" height="7" fill="#f23645"/>
<rect x="557" y="412" width="1" height="16" fill="#f23645"/><rect x="556" y="415" width="3" height="7" fill="#f23645"/>
<rect x="562" y="341" width="1" height="82" fill="#089981"/><rect x="561" y="386" width="3" height="36" fill="#089981"/>
<rect x="567" y="383" width="1" height="22" fill="#f23645"/><rect x="566" y="386" width="3" height="10" fill="#f23645"/>
<rect x="571" y="388" width="1" height="16" fill="#f23645"/><rect x="570" y="395" width="3" height="5" fill="#f23645"/>
<rect x="576" y="394" width="1" height="14" fill="#f23645"/><rect x="575" y="398" width="3" height="3" fill="#f23645"/>
<rect x="580" y="393" width="1" height="15" fill="#f23645"/><rect x="579" y="396" width="3" height="12" fill="#f23645"/>
<rect x="585" y="374" width="1" height="40" fill="#089981"/><rect x="584" y="402" width="3" height="6" fill="#089981"/>
<rect x="590" y="402" width="1" height="20" fill="#f23645"/><rect x="589" y="402" width="3" height="20" fill="#f23645"/>
<rect x="594" y="421" width="1" height="30" fill="#f23645"/><rect x="593" y="424" width="3" height="15" fill="#f23645"/>
<rect x="599" y="429" width="1" height="11" fill="#089981"/><rect x="598" y="430" width="3" height="10" fill="#089981"/>
<rect x="603" y="369" width="1" height="70" fill="#089981"/><rect x="602" y="412" width="3" height="18" fill="#089981"/>
<rect x="608" y="395" width="1" height="34" fill="#f23645"/><rect x="607" y="401" width="3" height="19" fill="#f23645"/>
<rect x="613" y="416" width="1" height="34" fill="#f23645"/><rect x="612" y="418" width="3" height="3" fill="#f23645"/>
<rect x="617" y="359" width="1" height="63" fill="#089981"/><rect x="616" y="414" width="3" height="5" fill="#089981"/>
<rect x="622" y="391" width="1" height="27" fill="#089981"/><rect x="621" y="404" width="3" height="8" fill="#089981"/>
<rect x="626" y="398" width="1" height="15" fill="#f23645"/><rect x="625" y="401" width="3" height="5" fill="#f23645"/>
<rect x="631" y="400" width="1" height="27" fill="#f23645"/><rect x="630" y="403" width="3" height="21" fill="#f23645"/>
<rect x="636" y="418" width="1" height="16" fill="#f23645"/><rect x="635" y="423" width="3" height="5" fill="#f23645"/>
<rect x="640" y="427" width="1" height="7" fill="#089981"/><rect x="639" y="429" width="3" height="2" fill="#089981"/>
<rect x="645" y="388" width="1" height="46" fill="#089981"/><rect x="644" y="424" width="3" height="5" fill="#089981"/>
<rect x="650" y="424" width="1" height="13" fill="#f23645"/><rect x="649" y="426" width="3" height="8" fill="#f23645"/>
<rect x="654" y="421" width="1" height="20" fill="#089981"/><rect x="653" y="432" width="3" height="7" fill="#089981"/>
<rect x="659" y="421" width="1" height="17" fill="#089981"/><rect x="658" y="427" width="3" height="11" fill="#089981"/>
<rect x="663" y="391" width="1" height="43" fill="#089981"/><rect x="662" y="426" width="3" height="1" fill="#089981"/>
<rect x="668" y="415" width="1" height="13" fill="#089981"/><rect x="667" y="421" width="3" height="4" fill="#089981"/>
<rect x="673" y="416" width="1" height="8" fill="#089981"/><rect x="672" y="420" width="3" height="1" fill="#089981"/>
<rect x="677" y="417" width="1" height="14" fill="#f23645"/><rect x="676" y="420" width="3" height="7" fill="#f23645"/>
<rect x="682" y="397" width="1" height="32" fill="#089981"/><rect x="681" y="411" width="3" height="16" fill="#089981"/>
<rect x="686" y="403" width="1" height="14" fill="#f23645"/><rect x="685" y="411" width="3" height="6" fill="#f23645"/>
<rect x="691" y="409" width="1" height="10" fill="#f23645"/><rect x="690" y="416" width="3" height="1" fill="#f23645"/>
<rect x="696" y="407" width="1" height="14" fill="#089981"/><rect x="695" y="407" width="3" height="11" fill="#089981"/>
<rect x="700" y="399" width="1" height="13" fill="#f23645"/><rect x="699" y="407" width="3" height="3" fill="#f23645"/>
<rect x="705" y="406" width="1" height="12" fill="#f23645"/><rect x="704" y="409" width="3" height="4" fill="#f23645"/>
<rect x="709" y="402" width="1" height="15" fill="#089981"/><rect x="708" y="405" width="3" height="8" fill="#089981"/>
<rect x="714" y="400" width="1" height="13" fill="#f23645"/><rect x="713" y="405" width="3" height="4" fill="#f23645"/>
<rect x="719" y="407" width="1" height="14" fill="#f23645"/><rect x="718" y="410" width="3" height="11" fill="#f23645"/>
<rect x="723" y="419" width="1" height="9" fill="#f23645"/><rect x="722" y="420" width="3" height="1" fill="#f23645"/>
<rect x="728" y="416" width="1" height="6" fill="#089981"/><rect x="727" y="418" width="3" height="3" fill="#089981"/>
<rect x="733" y="392" width="1" height="32" fill="#f23645"/><rect x="732" y="418" width="3" height="1" fill="#f23645"/>
<rect x="737" y="418" width="1" height="6" fill="#f23645"/><rect x="736" y="418" width="3" height="4" fill="#f23645"/>
<rect x="742" y="419" width="1" height="9" fill="#f23645"/><rect x="741" y="424" width="3" height="3" fill="#f23645"/>
<rect x="746" y="419" width="1" height="11" fill="#089981"/><rect x="745" y="424" width="3" height="3" fill="#089981"/>
<rect x="751" y="421" width="1" height="6" fill="#089981"/><rect x="750" y="423" width="3" height="4" fill="#089981"/>
<rect x="756" y="415" width="1" height="11" fill="#f23645"/><rect x="755" y="423" width="3" height="1" fill="#f23645"/>
<rect x="760" y="422" width="1" height="8" fill="#f23645"/><rect x="759" y="424" width="3" height="5" fill="#f23645"/>
<rect x="765" y="428" width="1" height="10" fill="#f23645"/><rect x="764" y="428" width="3" height="8" fill="#f23645"/>
<rect x="769" y="435" width="1" height="14" fill="#f23645"/><rect x="768" y="436" width="3" height="4" fill="#f23645"/>
<rect x="774" y="436" width="1" height="10" fill="#089981"/><rect x="773" y="438" width="3" height="2" fill="#089981"/>
<rect x="779" y="418" width="1" height="23" fill="#089981"/><rect x="778" y="430" width="3" height="10" fill="#089981"/>
<rect x="783" y="423" width="1" height="10" fill="#089981"/><rect x="782" y="423" width="3" height="7" fill="#089981"/>
<rect x="788" y="422" width="1" height="18" fill="#f23645"/><rect x="787" y="424" width="3" height="9" fill="#f23645"/>
<rect x="792" y="426" width="1" height="14" fill="#089981"/><rect x="791" y="432" width="3" height="3" fill="#089981"/>
<rect x="797" y="421" width="1" height="17" fill="#089981"/><rect x="796" y="429" width="3" height="4" fill="#089981"/>
<rect x="802" y="418" width="1" height="16" fill="#f23645"/><rect x="801" y="428" width="3" height="5" fill="#f23645"/>
<rect x="806" y="373" width="1" height="65" fill="#089981"/><rect x="805" y="397" width="3" height="36" fill="#089981"/>
<rect x="811" y="397" width="1" height="25" fill="#f23645"/><rect x="810" y="397" width="3" height="22" fill="#f23645"/>
<rect x="815" y="406" width="1" height="22" fill="#f23645"/><rect x="814" y="418" width="3" height="8" fill="#f23645"/>
<rect x="820" y="423" width="1" height="16" fill="#f23645"/><rect x="819" y="428" width="3" height="7" fill="#f23645"/>
<rect x="825" y="430" width="1" height="15" fill="#f23645"/><rect x="824" y="434" width="3" height="3" fill="#f23645"/>
<rect x="829" y="420" width="1" height="23" fill="#089981"/><rect x="828" y="423" width="3" height="15" fill="#089981"/>
<rect x="834" y="381" width="1" height="60" fill="#f23645"/><rect x="833" y="417" width="3" height="2" fill="#f23645"/>
<rect x="839" y="398" width="1" height="41" fill="#f23645"/><rect x="838" y="411" width="3" height="28" fill="#f23645"/>
<rect x="843" y="438" width="1" height="48" fill="#f23645"/><rect x="842" y="444" width="3" height="3" fill="#f23645"/>
<rect x="848" y="439" width="1" height="23" fill="#f23645"/><rect x="847" y="446" width="3" height="8" fill="#f23645"/>
<rect x="852" y="448" width="1" height="19" fill="#f23645"/><rect x="851" y="456" width="3" height="9" fill="#f23645"/>
<rect x="857" y="462" width="1" height="18" fill="#f23645"/><rect x="856" y="464" width="3" height="15" fill="#f23645"/>
<rect x="862" y="464" width="1" height="33" fill="#f23645"/><rect x="861" y="477" width="3" height="20" fill="#f23645"/>
<rect x="866" y="480" width="1" height="27" fill="#089981"/><rect x="865" y="494" width="3" height="10" fill="#089981"/>
<rect x="871" y="491" width="1" height="8" fill="#f23645"/><rect x="870" y="493" width="3" height="1" fill="#f23645"/>
<rect x="875" y="475" width="1" height="20" fill="#089981"/><rect x="874" y="480" width="3" height="14" fill="#089981"/>
<rect x="880" y="480" width="1" height="16" fill="#f23645"/><rect x="879" y="480" width="3" height="16" fill="#f23645"/>
<rect x="885" y="482" width="1" height="16" fill="#089981"/><rect x="884" y="490" width="3" height="7" fill="#089981"/>
<rect x="889" y="458" width="1" height="42" fill="#f23645"/><rect x="888" y="489" width="3" height="9" fill="#f23645"/>
<rect x="894" y="475" width="1" height="38" fill="#f23645"/><rect x="893" y="497" width="3" height="16" fill="#f23645"/>
<rect x="898" y="483" width="1" height="47" fill="#089981"/><rect x="897" y="518" width="3" height="2" fill="#089981"/>
<rect x="903" y="510" width="1" height="19" fill="#f23645"/><rect x="902" y="515" width="3" height="8" fill="#f23645"/>
<rect x="908" y="522" width="1" height="28" fill="#f23645"/><rect x="907" y="523" width="3" height="22" fill="#f23645"/>
<rect x="912" y="523" width="1" height="25" fill="#089981"/><rect x="911" y="541" width="3" height="6" fill="#089981"/>
<rect x="917" y="535" width="1" height="10" fill="#f23645"/><rect x="916" y="541" width="3" height="4" fill="#f23645"/>
<rect x="922" y="535" width="1" height="14" fill="#089981"/><rect x="921" y="546" width="3" height="1" fill="#089981"/>
<rect x="926" y="454" width="1" height="105" fill="#089981"/><rect x="925" y="526" width="3" height="21" fill="#089981"/>
<rect x="931" y="517" width="1" height="30" fill="#f23645"/><rect x="930" y="525" width="3" height="21" fill="#f23645"/>
<rect x="935" y="540" width="1" height="18" fill="#f23645"/><rect x="934" y="543" width="3" height="10" fill="#f23645"/>
<rect x="940" y="542" width="1" height="17" fill="#089981"/><rect x="939" y="547" width="3" height="12" fill="#089981"/>
<rect x="945" y="529" width="1" height="18" fill="#089981"/><rect x="944" y="537" width="3" height="10" fill="#089981"/>
<rect x="949" y="492" width="1" height="53" fill="#089981"/><rect x="948" y="517" width="3" height="22" fill="#089981"/>
<rect x="954" y="508" width="1" height="36" fill="#f23645"/><rect x="953" y="517" width="3" height="24" fill="#f23645"/>
<rect x="958" y="538" width="1" height="6" fill="#f23645"/><rect x="957" y="539" width="3" height="2" fill="#f23645"/>
<rect x="963" y="536" width="1" height="13" fill="#089981"/><rect x="962" y="538" width="3" height="3" fill="#089981"/>
<rect x="968" y="537" width="1" height="10" fill="#f23645"/><rect x="967" y="538" width="3" height="7" fill="#f23645"/>
<rect x="972" y="539" width="1" height="6" fill="#089981"/><rect x="971" y="540" width="3" height="1" fill="#089981"/>
<rect x="977" y="533" width="1" height="8" fill="#089981"/><rect x="976" y="539" width="3" height="1" fill="#089981"/>
<rect x="981" y="496" width="1" height="46" fill="#089981"/><rect x="980" y="531" width="3" height="10" fill="#089981"/>
<rect x="986" y="526" width="1" height="11" fill="#f23645"/><rect x="985" y="531" width="3" height="2" fill="#f23645"/>
<rect x="991" y="530" width="1" height="9" fill="#f23645"/><rect x="990" y="532" width="3" height="6" fill="#f23645"/>
<rect x="995" y="533" width="1" height="15" fill="#f23645"/><rect x="994" y="536" width="3" height="8" fill="#f23645"/>
<rect x="1000" y="504" width="1" height="45" fill="#f23645"/><rect x="999" y="538" width="3" height="8" fill="#f23645"/>
<rect x="1005" y="520" width="1" height="41" fill="#089981"/><rect x="1004" y="544" width="3" height="9" fill="#089981"/>
<rect x="1009" y="526" width="1" height="19" fill="#089981"/><rect x="1008" y="535" width="3" height="8" fill="#089981"/>
<rect x="1014" y="523" width="1" height="14" fill="#089981"/><rect x="1013" y="532" width="3" height="4" fill="#089981"/>
<rect x="1018" y="484" width="1" height="51" fill="#089981"/><rect x="1017" y="490" width="3" height="42" fill="#089981"/>
<rect x="1023" y="457" width="1" height="48" fill="#089981"/><rect x="1022" y="481" width="3" height="10" fill="#089981"/>
<rect x="1028" y="471" width="1" height="31" fill="#f23645"/><rect x="1027" y="476" width="3" height="10" fill="#f23645"/>
<rect x="1032" y="428" width="1" height="62" fill="#089981"/><rect x="1031" y="474" width="3" height="12" fill="#089981"/>
<rect x="1037" y="440" width="1" height="41" fill="#f23645"/><rect x="1036" y="466" width="3" height="5" fill="#f23645"/>
<rect x="1041" y="434" width="1" height="38" fill="#089981"/><rect x="1040" y="454" width="3" height="17" fill="#089981"/>
<rect x="1046" y="430" width="1" height="45" fill="#f23645"/><rect x="1045" y="454" width="3" height="12" fill="#f23645"/>
<rect x="1051" y="314" width="1" height="161" fill="#089981"/><rect x="1050" y="341" width="3" height="125" fill="#089981"/>
<rect x="1055" y="331" width="1" height="66" fill="#f23645"/><rect x="1054" y="341" width="3" height="50" fill="#f23645"/>
<rect x="1060" y="364" width="1" height="49" fill="#f23645"/><rect x="1059" y="393" width="3" height="19" fill="#f23645"/>
<rect x="1064" y="282" width="1" height="132" fill="#089981"/><rect x="1063" y="317" width="3" height="95" fill="#089981"/>
<rect x="1069" y="284" width="1" height="75" fill="#f23645"/><rect x="1068" y="308" width="3" height="42" fill="#f23645"/>
<rect x="1074" y="345" width="1" height="28" fill="#f23645"/><rect x="1073" y="359" width="3" height="14" fill="#f23645"/>
<rect x="1078" y="315" width="1" height="77" fill="#089981"/><rect x="1077" y="353" width="3" height="20" fill="#089981"/>
<rect x="1083" y="263" width="1" height="102" fill="#089981"/><rect x="1082" y="332" width="3" height="19" fill="#089981"/>
<rect x="1087" y="267" width="1" height="93" fill="#f23645"/><rect x="1086" y="326" width="3" height="18" fill="#f23645"/>
<rect x="1092" y="269" width="1" height="90" fill="#f23645"/><rect x="1091" y="343" width="3" height="8" fill="#f23645"/>
<rect x="1097" y="257" width="1" height="107" fill="#089981"/><rect x="1096" y="308" width="3" height="45" fill="#089981"/>
<rect x="1101" y="159" width="1" height="141" fill="#089981"/><rect x="1100" y="224" width="3" height="74" fill="#089981"/>
<rect x="1106" y="214" width="1" height="56" fill="#f23645"/><rect x="1105" y="224" width="3" height="24" fill="#f23645"/>
<rect x="1111" y="252" width="1" height="38" fill="#f23645"/><rect x="1110" y="259" width="3" height="27" fill="#f23645"/>
<rect x="1115" y="263" width="1" height="41" fill="#f23645"/><rect x="1114" y="285" width="3" height="10" fill="#f23645"/>
<rect x="1120" y="266" width="1" height="43" fill="#f23645"/><rect x="1119" y="294" width="3" height="12" fill="#f23645"/>
<rect x="1124" y="308" width="1" height="35" fill="#f23645"/><rect x="1123" y="309" width="3" height="11" fill="#f23645"/>
<rect x="1129" y="262" width="1" height="70" fill="#089981"/><rect x="1128" y="328" width="3" height="3" fill="#089981"/>
<rect x="1134" y="288" width="1" height="53" fill="#089981"/><rect x="1133" y="293" width="3" height="36" fill="#089981"/>
<rect x="1138" y="268" width="1" height="49" fill="#089981"/><rect x="1137" y="290" width="3" height="8" fill="#089981"/>
<rect x="1143" y="270" width="1" height="58" fill="#f23645"/><rect x="1142" y="288" width="3" height="22" fill="#f23645"/>
<rect x="1147" y="268" width="1" height="119" fill="#f23645"/><rect x="1146" y="306" width="3" height="81" fill="#f23645"/>
<rect x="1152" y="382" width="1" height="27" fill="#f23645"/><rect x="1151" y="388" width="3" height="11" fill="#f23645"/>
<rect x="1157" y="378" width="1" height="33" fill="#089981"/><rect x="1156" y="381" width="3" height="18" fill="#089981"/>
<rect x="1161" y="363" width="1" height="21" fill="#089981"/><rect x="1160" y="364" width="3" height="18" fill="#089981"/>
<rect x="1166" y="361" width="1" height="19" fill="#f23645"/><rect x="1165" y="365" width="3" height="13" fill="#f23645"/>
<rect x="1170" y="372" width="1" height="42" fill="#f23645"/><rect x="1169" y="376" width="3" height="18" fill="#f23645"/>
<rect x="1175" y="386" width="1" height="37" fill="#f23645"/><rect x="1174" y="386" width="3" height="36" fill="#f23645"/>
<rect x="1180" y="407" width="1" height="26" fill="#089981"/><rect x="1179" y="407" width="3" height="12" fill="#089981"/>
<rect x="1184" y="403" width="1" height="28" fill="#089981"/><rect x="1183" y="404" width="3" height="7" fill="#089981"/>
<rect x="1189" y="404" width="1" height="19" fill="#f23645"/><rect x="1188" y="404" width="3" height="18" fill="#f23645"/>
<rect x="1194" y="359" width="1" height="66" fill="#089981"/><rect x="1193" y="373" width="3" height="49" fill="#089981"/>
<rect x="1198" y="367" width="1" height="32" fill="#f23645"/><rect x="1197" y="373" width="3" height="18" fill="#f23645"/>
<rect x="1203" y="313" width="1" height="91" fill="#089981"/><rect x="1202" y="331" width="3" height="60" fill="#089981"/>
<rect x="1207" y="186" width="1" height="142" fill="#089981"/><rect x="1206" y="245" width="3" height="77" fill="#089981"/>
<rect x="1212" y="230" width="1" height="32" fill="#089981"/><rect x="1211" y="230" width="3" height="15" fill="#089981"/>
<rect x="1217" y="148" width="1" height="76" fill="#089981"/><rect x="1216" y="161" width="3" height="59" fill="#089981"/>
<line x1="11" y1="161.5" x2="1265" y2="161.5" stroke="#089981" stroke-width="1" stroke-dasharray="1 2"/>
</svg>
<div id="bline" class="abs"></div>
<div class="abs pl" style="top:11px">10,000</div>
<div class="abs pl" style="top:80px">9,000</div>
<div class="abs pl" style="top:218px">7,000</div>
<div class="abs pl" style="top:287px">6,000</div>
<div class="abs pl" style="top:356px">5,000</div>
<div class="abs pl" style="top:424px">4,000</div>
<div class="abs pl" style="top:493px">3,000</div>
<div class="abs pl" style="top:562px">2,000</div>
<div id="plabel" class="abs">7,960</div>
<div id="vlabel" class="abs">1.71 <span style="margin-left:-3.5px">M</span></div>
<div class="abs tl" style="left:16.5px;-webkit-text-stroke:0.25px #131313;letter-spacing:-0.3px">Mar</div>
<div class="abs tl" style="left:221px">2022</div>
<div class="abs tl" style="left:461px">2023</div>
<div class="abs tl" style="left:701px">2024</div>
<div class="abs tl" style="left:945px">2025</div>
<div class="abs tl" style="left:1185px">2026</div>
<svg class="abs" style="left:20px;top:4px" width="36" height="36" viewBox="20 4 36 36"><circle cx="37.5" cy="21.4" r="13.6" fill="#b8d65b"/><circle cx="37.5" cy="21.4" r="7.3" fill="none" stroke="#e3efb6" stroke-width="0.7" stroke-dasharray="2.2 0.6"/><ellipse cx="37.6" cy="21.4" rx="2.5" ry="4.5" fill="none" stroke="#f1f8d8" stroke-width="0.9"/><path d="M36.3 21.4H38.4M37 18.5V24.3" stroke="#f6fbe4" stroke-width="0.9" fill="none"/></svg>
<div class="abs tt" id="t1" style="left:56px;top:7px;font-size:24.6px;font-family:'Noto Sans CJK KR','NanumGothic',sans-serif;line-height:30px">엔에프씨</div><div class="abs tt" id="t2" style="left:149.9px;top:8px;font-size:25px;font-weight:bold;line-height:30px;font-family:'Liberation Serif',serif;-webkit-text-stroke:0">·</div><div class="abs tt" id="t3" style="left:163.6px;top:9.3px;transform:scaleX(0.915)">1W</div><div class="abs tt" id="t4" style="left:200.9px;top:8px;font-size:25px;font-weight:bold;line-height:30px;font-family:'Liberation Serif',serif;-webkit-text-stroke:0">·</div><div class="abs tt" id="t5" style="left:214.6px;top:9.3px;transform:scaleX(0.88)">KDQ</div>
<div id="pill" class="abs"><i></i></div>
<div class="abs oh" id="o1" style="left:333px;letter-spacing:-0.27px"><b>O</b>7,130</div><div class="abs oh" id="o2" style="left:405px;letter-spacing:-0.27px"><b>H</b>8,150</div><div class="abs oh" id="o3" style="left:476.5px;letter-spacing:-0.05px"><b>L</b>7,050</div><div class="abs oh" id="o4" style="left:544.4px;letter-spacing:-0.38px"><b>C</b>7,960</div><div class="abs oh" id="o5" style="left:615.6px;letter-spacing:-0.53px">+1,000</div><div class="abs oh" id="o6" style="left:680px;letter-spacing:-0.9px">(+14.37%)</div>
<div class="abs" style="left:20px;top:46px;width:140px;height:30px;background:rgba(255,255,255,0.55)"></div><div id="vol" class="abs">Volume<span class="vv">1.71<span class="vm"> M</span></span></div>
<svg class="abs" style="left:20px;top:70px" width="60" height="50" viewBox="20 70 60 50"><rect x="26" y="79.6" width="40.4" height="29.4" rx="4" fill="rgba(255,255,255,0.82)" stroke="#dadada" stroke-width="1.2"/><path d="M40.2 96.8L46.3 91.6L52.2 96.8" fill="none" stroke="#131313" stroke-width="1.9"/></svg>
<svg class="abs" style="left:20px;top:535px" width="70" height="70" viewBox="20 535 70 70"><circle cx="53.7" cy="568.4" r="24.75" fill="#fff" stroke="#e9e9e9" stroke-width="1.7"/><path d="M37.9 561.1H51.9V577.6H45.2V566.9H37.9Z" fill="#1e1e1e"/><circle cx="55.85" cy="563.9" r="2.7" fill="#1e1e1e"/><path d="M63.3 561.1H70L63.3 577.6H56.2Z" fill="#1e1e1e"/></svg>
<div id="tab" class="abs"><svg width="10" height="40" viewBox="0 0 10 40"><path d="M1.8 15.3L5.7 20.3L1.8 25.6" fill="none" stroke="#fff" stroke-width="1.3"/></svg></div>
<div class="abs" style="left:1290px;top:618px;width:32px;height:32px;"><svg width="32" height="32" viewBox="1290 618 32 32"><path d="M1301 624.4H1311.5L1316.5 633.6L1311.5 642.8H1301L1295.9 633.6Z" fill="none" stroke="#131313" stroke-width="1.4" stroke-linejoin="round"/><circle cx="1306.3" cy="633.6" r="3" fill="none" stroke="#131313" stroke-width="1.4"/></svg></div>
</body></html>
